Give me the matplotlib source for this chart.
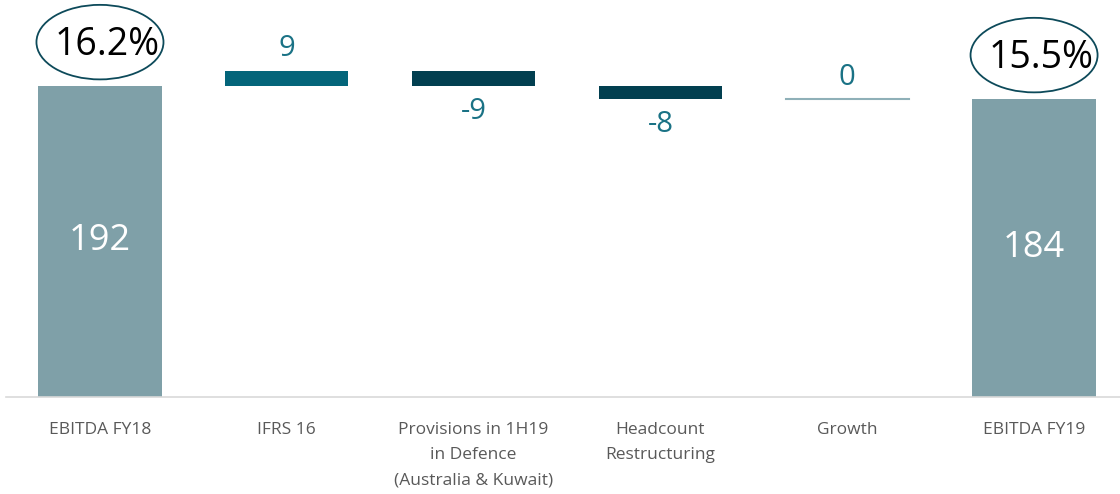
import matplotlib.pyplot as plt
from matplotlib.patches import Ellipse

categories = ["EBITDA FY18", "IFRS 16", "Provisions in 1H19\nin Defence\n(Australia & Kuwait)",
              "Headcount\nRestructuring", "Growth", "EBITDA FY19"]
deltas = [192, 9, -9, -8, 0, 184]
kinds = ["total", "up", "down", "down", "flat", "total"]
value_labels = ["192", "9", "-9", "-8", "0", "184"]
margins = {0: "16.2%", 5: "15.5%"}

colors = {"total": "#7fa0a8", "up": "#04657a", "down": "#023f50", "flat": "#8fb0b8"}
label_color = "#1a7285"

plt.rcParams['font.family'] = ['Open Sans', 'DejaVu Sans']

fig = plt.figure(figsize=(11.2, 4.94), dpi=100)
ax = fig.add_axes([6 / 1120, 97 / 494, 1 - 6 / 1120, 1 - 97 / 494])

running = 0
width = 0.66
for i, (d, kind) in enumerate(zip(deltas, kinds)):
    if kind == "total":
        running = d
        ax.bar(i, d, width=width, color=colors[kind])
        ax.text(i, d / 2, value_labels[i], ha="center", va="center",
                color="white", fontsize=26)
        el = Ellipse((i, d + 27), 0.68, 46, fill=False, edgecolor="#0d4a5a", lw=1.3,
                     clip_on=False)
        ax.add_patch(el)
        ax.text(i + 0.04, d + 25, margins[i], ha="center", va="center",
                color="black", fontsize=27)
    elif kind == "flat":
        ax.plot([i - width / 2, i + width / 2], [running, running], color=colors[kind], lw=1.5)
        ax.text(i, running + 13, value_labels[i], ha="center", va="center",
                color=label_color, fontsize=21)
    else:
        start = running
        running = running + d
        ax.bar(i, d, bottom=start, width=width, color=colors[kind])
        if d > 0:
            ax.text(i, running + 14, value_labels[i], ha="center", va="center",
                    color=label_color, fontsize=21)
        else:
            ax.text(i, running - 16, value_labels[i], ha="center", va="center",
                    color=label_color, fontsize=21)

ax.set_xlim(-0.503, 5.46)
ax.set_ylim(0, 245)
ax.set_xticks(range(len(categories)))
ax.set_xticklabels(categories, fontsize=12.5, color="#595959", linespacing=1.75)
ax.tick_params(axis="x", length=0, pad=18)
ax.set_yticks([])
for s in ["top", "right", "left"]:
    ax.spines[s].set_visible(False)
ax.spines["bottom"].set_color("#d9d9d9")
ax.spines["bottom"].set_linewidth(1.2)

fig.savefig("out.png", dpi=100)
